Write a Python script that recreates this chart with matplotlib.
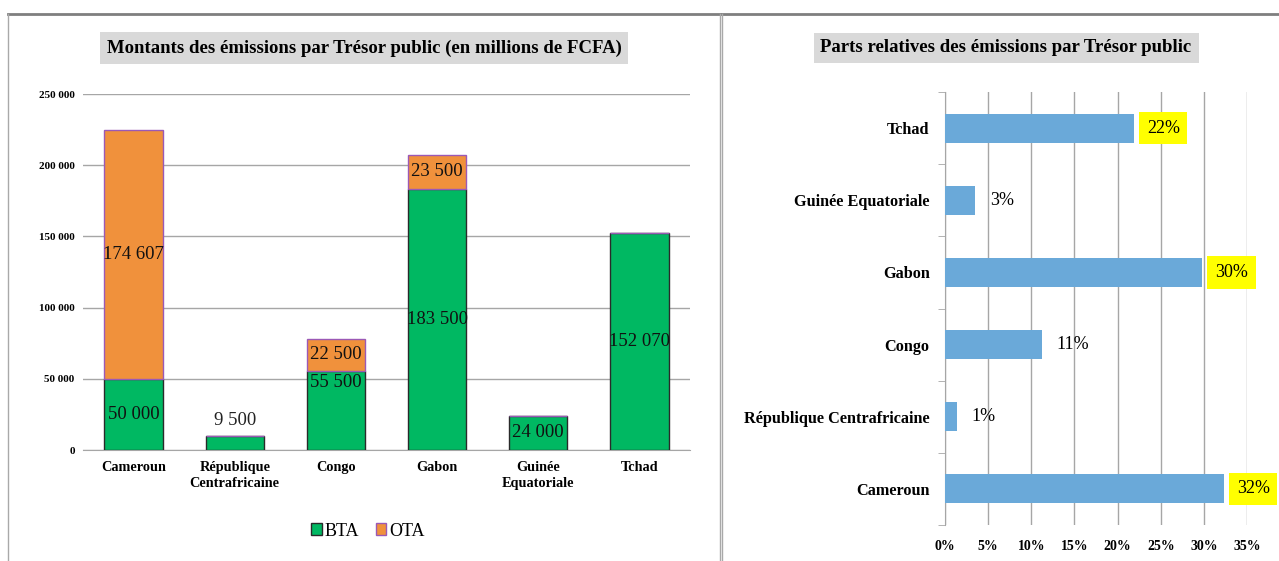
import matplotlib.pyplot as plt
import numpy as np
from matplotlib.patches import Patch
from matplotlib.lines import Line2D

plt.rcParams['font.family'] = ['Liberation Serif', 'DejaVu Serif']

# Données - graphique de gauche
pays = ['Cameroun', 'République\nCentrafricaine', 'Congo', 'Gabon', 'Guinée\nEquatoriale', 'Tchad']
bta = [50000, 9500, 55500, 183500, 24000, 152070]
ota = [174607, 0, 22500, 23500, 0, 0]
bta_labels = ['50 000', '9 500', '55 500', '183 500', '24 000', '152 070']
ota_labels = ['174 607', '', '22 500', '23 500', '', '']

# Données - graphique de droite
pays_h = ['Cameroun', 'République Centrafricaine', 'Congo', 'Gabon', 'Guinée Equatoriale', 'Tchad']
parts = [32.3, 1.4, 11.2, 29.8, 3.5, 21.9]
parts_labels = ['32%', '1%', '11%', '30%', '3%', '22%']
surligne = [True, False, False, True, False, True]

vert = '#00b862'
orange = '#f0913c'
violet = '#9b59b6'
bleu = '#6aa9d9'
grille = '#a6a6a6'

fig = plt.figure(figsize=(12.79, 5.61), dpi=100)

# cadres des deux panneaux
for x0, x1 in [(8 / 1279, 720 / 1279), (722 / 1279, 1.0)]:
    fig.add_artist(Line2D([x0, x1], [1 - 14 / 561, 1 - 14 / 561], color='#7f7f7f', lw=2))
    fig.add_artist(Line2D([x0, x0], [0, 1 - 14 / 561], color='#a9a9a9', lw=1))
fig.add_artist(Line2D([720 / 1279, 720 / 1279], [0, 1 - 14 / 561], color='#a9a9a9', lw=1))

# ---- Graphique de gauche
ax = fig.add_axes([83 / 1279, 1 - 450 / 561, 607 / 1279, 356 / 561])
x = np.arange(len(pays))
w = 0.575
ax.bar(x, bta, w, color=vert, edgecolor='#2a2a2a', linewidth=1, zorder=3)
ax.bar(x, ota, w, bottom=bta, color=orange, edgecolor=violet, linewidth=1, zorder=3)

fs = 13.5
for i in range(len(pays)):
    if bta[i] < 15000:
        ax.text(x[i], bta[i] + 11000, bta_labels[i], ha='center', va='center', fontsize=fs, color='#222222', zorder=4)
    elif pays[i] == 'Congo':
        ax.text(x[i], bta[i] * 0.85, bta_labels[i], ha='center', va='center', fontsize=fs, color='#111111', zorder=4)
    else:
        ax.text(x[i], bta[i] / 2, bta_labels[i], ha='center', va='center', fontsize=fs, color='#111111', zorder=4)
    if ota[i] > 0:
        ax.text(x[i], bta[i] + ota[i] / 2, ota_labels[i], ha='center', va='center', fontsize=fs, color='#111111', zorder=4)

ax.set_xlim(-0.5, len(pays) - 0.5)
ax.set_ylim(0, 250000)
ax.set_yticks(np.arange(0, 250001, 50000))
ax.set_yticklabels(['0', '50 000', '100 000', '150 000', '200 000', '250 000'], fontsize=8, fontweight='bold')
ax.set_xticks(x)
ax.set_xticklabels(pays, fontsize=10.3, fontweight='bold', linespacing=1.25)
ax.tick_params(axis='x', length=0, pad=8)
ax.tick_params(axis='y', length=0, pad=6)
ax.grid(axis='y', color=grille, lw=1, zorder=0)
for s in ['top', 'right', 'left']:
    ax.spines[s].set_visible(False)
ax.spines['bottom'].set_color(grille)

fig.text(364 / 1279, 1 - 48 / 561, 'Montants des émissions par Trésor public (en millions de FCFA)',
         ha='center', va='center', fontsize=13.5, fontweight='bold',
         bbox=dict(facecolor='#d9d9d9', edgecolor='none', pad=5))

handles = [Patch(facecolor=vert, edgecolor='#2a2a2a', label='BTA'),
           Patch(facecolor=orange, edgecolor=violet, label='OTA')]
fig.legend(handles=handles, loc='center', bbox_to_anchor=(368 / 1279, 1 - 531 / 561), ncol=2,
           frameon=False, fontsize=13, handlelength=0.6, handleheight=0.6, handletextpad=0.15,
           columnspacing=0.9)

# ---- Graphique de droite
ax2 = fig.add_axes([945 / 1279, 1 - 525 / 561, 302 / 1279, 433 / 561])
y = np.arange(len(pays_h))
ax2.barh(y, parts, 0.4, color=bleu, zorder=3)
for i in range(len(pays_h)):
    if surligne[i]:
        ax2.text(parts[i] + 1.5, y[i], parts_labels[i], ha='left', va='center', fontsize=13,
                 bbox=dict(facecolor='#ffff00', edgecolor='none', pad=5.5), zorder=4)
    else:
        ax2.text(parts[i] + 1.7, y[i], parts_labels[i], ha='left', va='center', fontsize=13, zorder=4)

ax2.set_xlim(0, 35)
ax2.set_ylim(-0.5, len(pays_h) - 0.5)
ax2.set_xticks(np.arange(0, 36, 5))
ax2.set_xticklabels([f'{v}%' for v in range(0, 36, 5)], fontsize=10, fontweight='bold')
ax2.set_yticks(y)
ax2.set_yticklabels(pays_h, fontsize=11.7, fontweight='bold')
ax2.set_yticks(np.arange(-0.5, len(pays_h), 1), minor=True)
ax2.tick_params(axis='y', which='major', length=0, pad=11)
ax2.tick_params(axis='y', which='minor', length=5, color=grille)
ax2.tick_params(axis='x', length=0, pad=11)
ax2.grid(axis='x', color=grille, lw=1, zorder=0)
for s in ['top', 'right', 'bottom']:
    ax2.spines[s].set_visible(False)
ax2.spines['left'].set_color(grille)

fig.text(1006 / 1279, 1 - 48 / 561, 'Parts relatives des émissions par Trésor public',
         ha='center', va='center', fontsize=13.5, fontweight='bold',
         bbox=dict(facecolor='#d9d9d9', edgecolor='none', pad=5))

fig.savefig('out.png', dpi=100)
